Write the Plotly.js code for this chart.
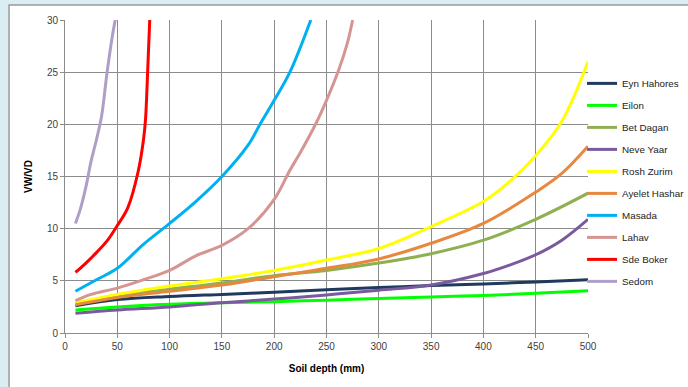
<!DOCTYPE html>
<html>
<head>
<meta charset="utf-8">
<script src="https://cdn.plot.ly/plotly-3.0.1.min.js"></script>
<style>html,body{margin:0;padding:0;background:#DAEDF2;}#chart{width:688px;height:387px;}</style>
</head>
<body>
<div id="chart"></div>
<script>
// Series names and colours
const seriesNames = ["Eyn Hahores","Eilon","Bet Dagan","Neve Yaar","Rosh Zurim","Ayelet Hashar","Masada","Lahav","Sde Boker","Sedom"];
const seriesColors = ["#1F3A5F","#00FF00","#8FB050","#7A5A9E","#FFFF00","#E8883F","#00B0F0","#D59593","#FF0000","#AE9FC8"];

// Soil depth (mm) and VW/VD values
const xEynHahores = [10, 50, 100, 150, 200, 250, 300, 350, 400, 450, 500];
const yEynHahores = [2.6, 3.2, 3.5, 3.7, 3.9, 4.15, 4.35, 4.55, 4.7, 4.9, 5.1];

const xEilon = [10, 50, 100, 150, 200, 250, 300, 350, 400, 450, 500];
const yEilon = [2.2, 2.5, 2.75, 2.9, 3.0, 3.15, 3.3, 3.45, 3.6, 3.8, 4.05];

const xBetDagan = [10, 50, 100, 150, 200, 250, 300, 350, 400, 450, 500];
const yBetDagan = [2.8, 3.6, 4.2, 4.8, 5.5, 6.0, 6.7, 7.6, 8.9, 10.9, 13.4];

const xNeveYaar = [10, 50, 100, 150, 200, 250, 300, 350, 400, 425, 450, 475, 500];
const yNeveYaar = [1.9, 2.2, 2.5, 2.9, 3.25, 3.65, 4.1, 4.6, 5.7, 6.5, 7.5, 8.9, 10.9];

const xRoshZurim = [10, 50, 100, 150, 200, 250, 300, 350, 400, 425, 450, 475, 500];
const yRoshZurim = [2.9, 3.7, 4.5, 5.2, 6.0, 7.0, 8.1, 10.2, 12.6, 14.5, 17.0, 20.3, 26.0];

const xAyeletHashar = [10, 50, 100, 150, 200, 250, 300, 350, 400, 450, 475, 500];
const yAyeletHashar = [2.7, 3.4, 4.0, 4.6, 5.4, 6.2, 7.1, 8.6, 10.5, 13.5, 15.3, 17.9];

const xMasada = [10, 30, 50, 75, 100, 125, 150, 175, 187, 200, 215, 235];
const yMasada = [4.0, 5.1, 6.2, 8.5, 10.5, 12.6, 15.0, 18.0, 20.1, 22.3, 25.0, 30.0];

const xLahav = [10, 25, 50, 75, 100, 125, 150, 175, 200, 215, 225, 240, 250, 262, 270, 275];
const yLahav = [3.1, 3.7, 4.3, 5.1, 6.0, 7.4, 8.4, 10.0, 12.8, 15.6, 17.3, 20.1, 22.3, 25.3, 27.8, 30.0];

const xSdeBoker = [10, 20, 30, 40, 50, 60, 70, 75, 77, 79, 81];
const ySdeBoker = [5.8, 6.7, 7.7, 8.8, 10.3, 12.0, 15.5, 18.5, 20.5, 25.0, 30.0];

const xSedom = [10, 15, 20, 25, 30, 35, 40, 45, 48];
const ySedom = [10.5, 12.0, 14.0, 16.5, 18.5, 20.8, 24.8, 28.3, 30.0];

const xTicks = [0, 50, 100, 150, 200, 250, 300, 350, 400, 450, 500];
const yTicks = [0, 5, 10, 15, 20, 25, 30];

const xs = [xEynHahores, xEilon, xBetDagan, xNeveYaar, xRoshZurim, xAyeletHashar, xMasada, xLahav, xSdeBoker, xSedom];
const ys = [yEynHahores, yEilon, yBetDagan, yNeveYaar, yRoshZurim, yAyeletHashar, yMasada, yLahav, ySdeBoker, ySedom];

const traces = seriesNames.map((n, i) => ({
  type: 'scatter', mode: 'lines', name: n, x: xs[i], y: ys[i],
  legendgroup: 'g' + i,
  line: {color: seriesColors[i], width: 3, shape: 'spline', smoothing: 1}
}));

const fnt = '"Liberation Sans", Arial, sans-serif';
const layout = {
  width: 688, height: 387,
  margin: {l: 65, r: 100, t: 20, b: 54, autoexpand: false},
  paper_bgcolor: '#DAEDF2',
  plot_bgcolor: 'rgba(0,0,0,0)',
  font: {family: fnt, size: 10, color: '#404040'},
  showlegend: true,
  legend: {xref: 'container', yref: 'container', x: 0.846, xanchor: 'left', y: 0.822, yanchor: 'top',
           maxheight: 350,
           font: {family: fnt, size: 9.8, color: '#222'},
           bgcolor: 'rgba(0,0,0,0)', tracegroupgap: 3.0, traceorder: 'grouped', itemwidth: 30},
  xaxis: {range: [0, 500], tickvals: xTicks, ticktext: xTicks.map(String), showgrid: true, gridcolor: '#8C8C8C', gridwidth: 1,
          zeroline: false, showline: true, linecolor: '#8C8C8C', ticks: 'outside', ticklen: 4, tickcolor: '#8C8C8C',
          tickfont: {family: fnt, size: 10, color: '#404040'},
          title: {text: 'Soil depth (mm)', font: {family: fnt, size: 10, color: '#000', weight: 'bold'}, standoff: 13}},
  yaxis: {range: [0, 30], tickvals: yTicks, ticktext: yTicks.map(String), showgrid: true, gridcolor: '#8C8C8C', gridwidth: 1,
          zeroline: false, showline: true, linecolor: '#8C8C8C', ticks: 'outside', ticklen: 4, tickcolor: '#8C8C8C',
          tickfont: {family: fnt, size: 10, color: '#404040'},
          title: {text: 'VW/VD', font: {family: fnt, size: 10, color: '#000', weight: 'bold'}, standoff: 12}},
  shapes: [{type: 'rect', xref: 'paper', yref: 'paper', x0: -0.107, x1: 1.25, y0: -0.3, y1: 1.048,
            fillcolor: '#FFFFFF', line: {color: '#9A9A9A', width: 1.5}, layer: 'below'}]
};
Plotly.newPlot('chart', traces, layout, {displayModeBar: false, staticPlot: true});
</script>
</body>
</html>
